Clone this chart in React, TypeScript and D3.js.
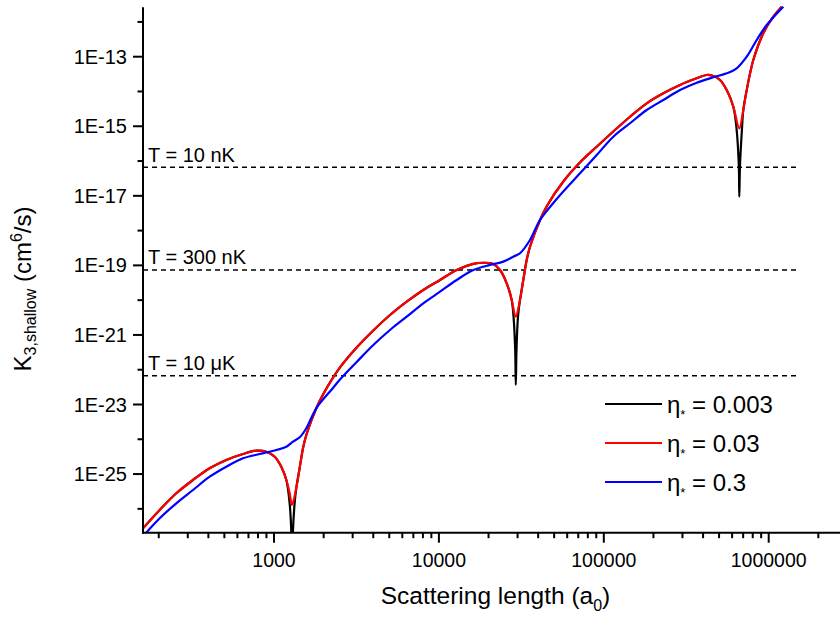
import React from "react";
import * as d3 from "d3";

// ---------- data ----------
const blackA = [160.6, 202.7, 255.6, 322.7, 407.4, 513.7, 648.6, 781, 898, 1010, 1107, 1188, 1247, 1277, 1286, 1298, 1331, 1365, 1430, 1499, 1570, 1805, 1991, 2513, 3173, 4001, 5052, 6378, 8041, 10155, 12819, 16168, 18592, 21379, 23477, 25777, 27635, 28351, 29020, 29265, 29550, 30175, 31031, 32493, 34072, 35679, 41036, 45255, 57138, 72120, 90573, 114180, 144200, 182030, 229540, 289810, 365880, 420730, 461360, 506680, 556400, 610100, 637900, 658700, 663300, 669900, 688800, 701500, 735700, 806600, 927500, 1066400, 1199000];
const blackK = [2.76e-27, 9.26e-27, 2.8e-26, 6.75e-26, 1.465e-25, 2.54e-25, 3.77e-25, 4.7e-25, 4.4e-25, 3.16e-25, 1.63e-25, 6.75e-26, 1.29e-26, 1.45e-27, 1.43e-28, 1.45e-27, 1.29e-26, 3.98e-26, 1.465e-25, 5.51e-25, 1.33e-24, 7.78e-24, 2.0e-23, 1.16e-22, 4.35e-22, 1.34e-21, 3.74e-21, 9.03e-21, 1.96e-20, 3.8e-20, 7.36e-20, 1.1e-19, 1.19e-19, 1.1e-19, 7.36e-20, 3.05e-20, 1.01e-20, 3.35e-21, 3.69e-22, 3.64e-23, 3.69e-22, 3.35e-21, 1.01e-20, 3.8e-20, 1.43e-19, 3.44e-19, 2.02e-18, 5.2e-18, 2.67e-17, 9.38e-17, 2.58e-16, 7.07e-16, 1.88e-15, 4.57e-15, 8.87e-15, 1.54e-14, 2.39e-14, 2.98e-14, 2.79e-14, 2.14e-14, 1.1e-14, 3.65e-15, 8.74e-16, 7.7e-17, 9.43e-18, 7.7e-17, 8.74e-16, 2.93e-15, 1.1e-14, 8.04e-14, 4.71e-13, 1.41e-12, 2.74e-12];

const redA = [160.6, 202.7, 255.6, 322.7, 407.4, 513.7, 648.6, 781, 898, 1010, 1107, 1188, 1245, 1286, 1365, 1430, 1499, 1570, 1805, 1991, 2513, 3173, 4001, 5052, 6378, 8041, 10155, 12819, 16168, 18592, 21379, 23477, 25777, 27635, 29224, 31031, 32493, 34072, 35679, 41036, 45255, 57138, 72120, 90573, 114180, 144200, 182030, 229540, 289810, 365880, 420730, 461360, 506680, 556400, 610100, 663300, 701500, 735700, 806600, 927500, 1066400, 1199000];
const redK = [2.76e-27, 9.26e-27, 2.8e-26, 6.75e-26, 1.465e-25, 2.54e-25, 3.77e-25, 4.7e-25, 4.4e-25, 3.16e-25, 1.63e-25, 6.75e-26, 2.8e-26, 1.29e-26, 3.98e-26, 1.465e-25, 5.51e-25, 1.33e-24, 7.78e-24, 2.0e-23, 1.16e-22, 4.35e-22, 1.34e-21, 3.74e-21, 9.03e-21, 1.96e-20, 3.8e-20, 7.36e-20, 1.1e-19, 1.19e-19, 1.1e-19, 7.36e-20, 3.05e-20, 1.01e-20, 3.35e-21, 1.01e-20, 3.8e-20, 1.43e-19, 3.44e-19, 2.02e-18, 5.2e-18, 2.67e-17, 9.38e-17, 2.58e-16, 7.07e-16, 1.88e-15, 4.57e-15, 8.87e-15, 1.54e-14, 2.39e-14, 2.98e-14, 2.79e-14, 2.14e-14, 1.1e-14, 3.65e-15, 8.74e-16, 2.93e-15, 1.1e-14, 8.04e-14, 4.71e-13, 1.41e-12, 2.74e-12];

const blueA = [160.6, 202.7, 255.6, 322.7, 407.4, 513.7, 648.6, 818.8, 1032.6, 1188, 1304, 1438, 1570, 1805, 2279, 2513, 3173, 4001, 5052, 6378, 8041, 10155, 12819, 16168, 20408, 24581, 28272, 31031, 35679, 41036, 51817, 71730, 90573, 114180, 144200, 182030, 229540, 289810, 365880, 461360, 556400, 639700, 735700, 845600, 972500, 1226000];
const blueK = [1.62e-27, 5.35e-27, 1.44e-26, 3.48e-26, 8.4e-26, 1.63e-25, 2.84e-25, 3.77e-25, 4.92e-25, 6.12e-25, 8.52e-25, 1.16e-24, 2.07e-24, 7.78e-24, 2.98e-23, 5.24e-23, 1.67e-22, 5.14e-22, 1.39e-21, 3.35e-21, 8.12e-21, 1.75e-20, 3.8e-20, 7.36e-20, 1.03e-19, 1.28e-19, 1.78e-19, 2.23e-19, 5.37e-19, 2.02e-18, 8.1e-18, 4.44e-17, 1.49e-16, 5.01e-16, 1.22e-15, 2.93e-15, 5.69e-15, 1.1e-14, 1.79e-14, 2.56e-14, 3.33e-14, 4.64e-14, 1.0e-13, 3.02e-13, 8.15e-13, 2.74e-12];

const etaValues = ["0.003", "0.03", "0.3"];
const seriesColors = ["#000000", "#ff0000", "#0000ff"];

const xTickValues = [1000, 10000, 100000, 1000000];
const xTickLabels = ["1000", "10000", "100000", "1000000"];
const yTickValues = [1e-13, 1e-15, 1e-17, 1e-19, 1e-21, 1e-23, 1e-25];
const yTickLabels = ["1E-13", "1E-15", "1E-17", "1E-19", "1E-21", "1E-23", "1E-25"];
const yMinorValues = [1e-12, 1e-14, 1e-16, 1e-18, 1e-20, 1e-22, 1e-24, 1e-26];

const tempLabels = ["T = 10 nK", "T = 300 nK", "T = 10 \u03bcK"];
const tempValues = [6.6e-17, 7.36e-20, 6.73e-23];

// ---------- layout ----------
const W = 840;
const H = 617;
const LEFT = 143;
const RIGHT = 845;
const TOP = 7.3;
const BOTTOM = 532.7;
const FONT = "'Liberation Sans', Arial, Helvetica, sans-serif";

const x = d3.scaleLog().domain([1e3, 1e6]).range([274, 768.7]);
const y = d3.scaleLog().domain([1e-13, 1e-25]).range([56.7, 474.06]);

const xMinor: number[] = [];
for (let d = 100; d <= 1e6; d *= 10) {
  for (let m = 2; m <= 9; m++) {
    const v = d * m;
    const px = x(v);
    if (px >= LEFT && px <= RIGHT) xMinor.push(v);
  }
}

const line = d3
  .line<[number, number]>()
  .x((d) => x(d[0]))
  .y((d) => y(d[1]))
  .curve(d3.curveCatmullRom.alpha(0.5));

const series = [
  { a: blackA, k: blackK },
  { a: redA, k: redK },
  { a: blueA, k: blueK },
];

export default function App() {
  return (
    <svg
      width={W}
      height={H}
      style={{ position: "absolute", left: 0, top: 0, background: "#fff" }}
      fontFamily={FONT}
    >
      <defs>
        <clipPath id="plot">
          <rect x={LEFT} y={5} width={RIGHT - LEFT} height={BOTTOM - 5} />
        </clipPath>
      </defs>
      <rect x={0} y={0} width={W} height={H} fill="#fff" />

      {/* temperature lines */}
      {tempValues.map((v, i) => (
        <g key={"t" + i}>
          <line
            x1={LEFT}
            x2={800}
            y1={y(v)}
            y2={y(v)}
            stroke="#000"
            strokeWidth={1.5}
            strokeDasharray="5,4"
          />
          <text x={148} y={y(v) - 5.6} fontSize={20} fill="#000">
            {tempLabels[i]}
          </text>
        </g>
      ))}

      {/* curves */}
      <g clipPath="url(#plot)">
        {series.map((s, i) => (
          <path
            key={"s" + i}
            d={line(s.a.map((a, j) => [a, s.k[j]] as [number, number])) || ""}
            fill="none"
            stroke={seriesColors[i]}
            strokeWidth={2.2}
            strokeLinejoin="round"
          />
        ))}
      </g>

      {/* axes */}
      <line x1={LEFT} x2={LEFT} y1={TOP} y2={BOTTOM + 1} stroke="#000" strokeWidth={2} />
      <line x1={LEFT - 1} x2={RIGHT} y1={BOTTOM} y2={BOTTOM} stroke="#000" strokeWidth={2} />

      {xTickValues.map((v, i) => (
        <g key={"xt" + i}>
          <line x1={x(v)} x2={x(v)} y1={BOTTOM} y2={BOTTOM + 10} stroke="#000" strokeWidth={2} />
          <text x={x(v)} y={566.5} fontSize={19.5} textAnchor="middle" fill="#000">
            {xTickLabels[i]}
          </text>
        </g>
      ))}
      {xMinor.map((v, i) => (
        <line key={"xm" + i} x1={x(v)} x2={x(v)} y1={BOTTOM} y2={BOTTOM + 5.5} stroke="#000" strokeWidth={2} />
      ))}

      {yTickValues.map((v, i) => (
        <g key={"yt" + i}>
          <line x1={LEFT - 10} x2={LEFT} y1={y(v)} y2={y(v)} stroke="#000" strokeWidth={2} />
          <text x={127} y={y(v) + 7} fontSize={20} textAnchor="end" fill="#000">
            {yTickLabels[i]}
          </text>
        </g>
      ))}
      {yMinorValues.map((v, i) => (
        <line key={"ym" + i} x1={LEFT - 5.5} x2={LEFT} y1={y(v)} y2={y(v)} stroke="#000" strokeWidth={2} />
      ))}

      {/* axis titles */}
      <text x={495.5} y={604} fontSize={24.5} textAnchor="middle" fill="#000">
        Scattering length (a
        <tspan fontSize={16} dy={7}>0</tspan>
        <tspan dy={-7}>)</tspan>
      </text>
      <text
        transform="translate(31,289) rotate(-90)"
        fontSize={24}
        textAnchor="middle"
        fill="#000"
      >
        K
        <tspan fontSize={16} dy={5}>3,shallow</tspan>
        <tspan dy={-5}> (cm</tspan>
        <tspan fontSize={16} dy={-9}>6</tspan>
        <tspan dy={9}>/s)</tspan>
      </text>

      {/* legend */}
      {etaValues.map((v, i) => {
        const ly = 404 + i * 39;
        return (
          <g key={"lg" + i}>
            <line x1={605} x2={662} y1={ly} y2={ly} stroke={seriesColors[i]} strokeWidth={2} />
            <text x={667} y={ly + 8.6} fontSize={24} fill="#000">
              {"\u03b7"}
              <tspan fontSize={13} dy={6}>*</tspan>
              <tspan dy={-6}>{" = " + v}</tspan>
            </text>
          </g>
        );
      })}
    </svg>
  );
}
